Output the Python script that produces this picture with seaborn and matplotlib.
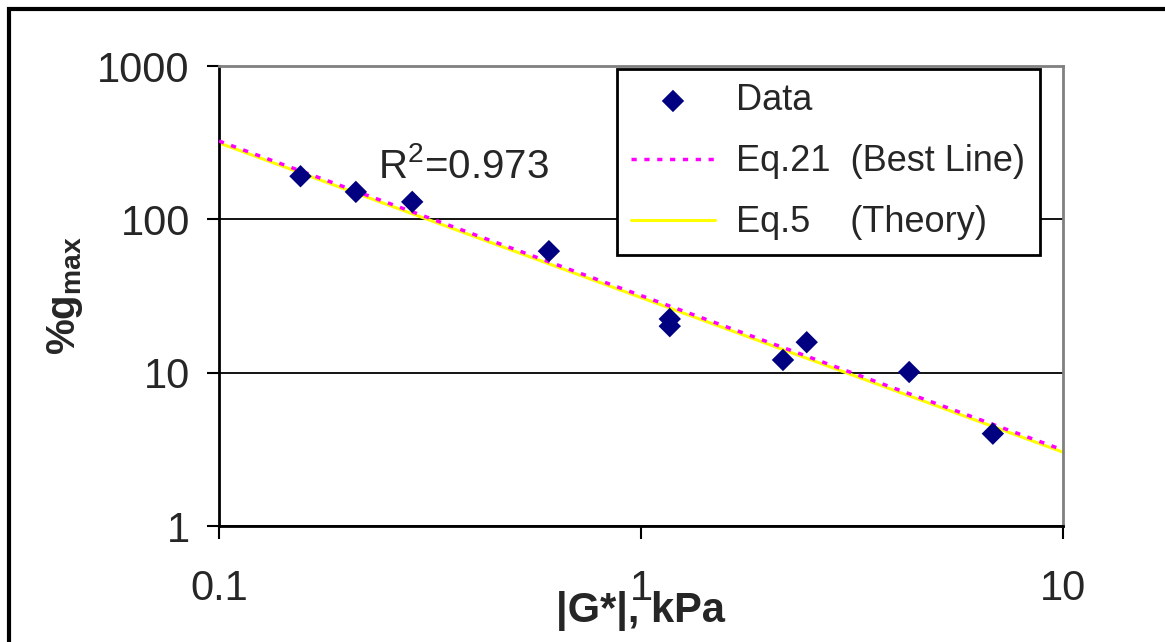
import matplotlib
matplotlib.use("Agg")
import matplotlib.pyplot as plt
import matplotlib.ticker as mticker
from matplotlib.patches import Rectangle
import seaborn as sns
import pandas as pd

# data
g_star = [0.156, 0.211, 0.287, 0.605, 1.17, 1.17, 2.17, 2.47, 4.32, 6.82]
pct_gmax = [191, 151, 130, 62, 22.4, 20.1, 12.1, 15.8, 10.1, 4.0]

# fitted lines (end points)
line_x = [0.1, 10]
best_y = [324, 3.13]
theory_y = [315, 3.03]

x_ticks = [0.1, 1, 10]
y_ticks = [1, 10, 100, 1000]

sns.set_style("white")
plt.rcParams['font.family'] = ['Liberation Sans', 'DejaVu Sans']
plt.rcParams['mathtext.fontset'] = 'custom'
plt.rcParams['mathtext.rm'] = 'Liberation Sans'
plt.rcParams['mathtext.bf'] = 'Liberation Sans:bold'

W, H = 1165, 642
fig = plt.figure(figsize=(W / 100, H / 100), dpi=100)
ax = fig.add_axes([219 / W, 1 - 526 / H, (1063 - 219) / W, (526 - 66) / H])

df = pd.DataFrame({'x': g_star, 'y': pct_gmax})
lines = pd.DataFrame({'x': line_x, 'best': best_y, 'theory': theory_y})

sns.lineplot(data=lines, x='x', y='theory', ax=ax, color='#ffff00', lw=2.2,
             label='Eq.5    (Theory)', zorder=2)
sns.lineplot(data=lines, x='x', y='best', ax=ax, color='#ff00ff', lw=2.5,
             linestyle=(0, (1.5, 2.2)), label='Eq.21  (Best Line)', zorder=3)
sns.scatterplot(data=df, x='x', y='y', ax=ax, marker='D', s=130, color='#000080',
                edgecolor='none', label='Data', zorder=4)

ax.set_xscale('log')
ax.set_yscale('log')
ax.set_xlim(0.1, 10)
ax.set_ylim(1, 1000)
ax.xaxis.set_major_locator(mticker.FixedLocator(x_ticks))
ax.yaxis.set_major_locator(mticker.FixedLocator(y_ticks))
ax.xaxis.set_major_formatter(mticker.FuncFormatter(lambda v, p: '%g' % v))
ax.yaxis.set_major_formatter(mticker.FuncFormatter(lambda v, p: '%g' % v))
ax.xaxis.set_minor_locator(mticker.NullLocator())
ax.yaxis.set_minor_locator(mticker.NullLocator())
ax.tick_params(axis='both', which='major', direction='out', length=9, width=1.5,
               labelsize=30, color='black', left=True, bottom=True)
ax.tick_params(axis='x', pad=22)
ax.tick_params(axis='y', pad=12)

ax.grid(axis='y', color='black', lw=1.3)
ax.set_axisbelow(True)
for s in ['left', 'bottom']:
    ax.spines[s].set_color('black')
    ax.spines[s].set_linewidth(2)
for s in ['top', 'right']:
    ax.spines[s].set_color('#808080')
    ax.spines[s].set_linewidth(2)

ax.set_xlabel('|G*|, kPa', fontsize=30, fontweight='bold', va='center')
ax.xaxis.set_label_coords(0.499, -0.185)
ax.set_ylabel(r'%g$_{\mathbf{max}}$', fontsize=29, fontweight='bold', va='center')
ax.yaxis.set_label_coords(-0.183, 0.5)

ax.text((378 - 219) / 844, (526 - 178) / 460, r'R$^{\mathrm{2}}$=0.973',
        transform=ax.transAxes, fontsize=29, va='baseline', ha='left')

# legend order: Data, Best Line, Theory
h, l = ax.get_legend_handles_labels()
order = [l.index('Data'), l.index('Eq.21  (Best Line)'), l.index('Eq.5    (Theory)')]
leg = ax.legend([h[i] for i in order], [l[i] for i in order],
                loc='upper left', bbox_to_anchor=(617 / W, 1 - 69 / H),
                bbox_transform=fig.transFigure, borderaxespad=0,
                fontsize=26, frameon=True, fancybox=False, shadow=False,
                framealpha=1, edgecolor='black', handlelength=2.3,
                labelspacing=0.72, borderpad=0.4, handletextpad=0.6)
leg.get_frame().set_linewidth(2)

# outer chart border
fig.patches.append(Rectangle((9 / W, -0.1), 1.2, 1 - 9 / H + 0.1,
                             transform=fig.transFigure, fill=False,
                             edgecolor='black', lw=3))

fig.savefig('out.png', dpi=100)
